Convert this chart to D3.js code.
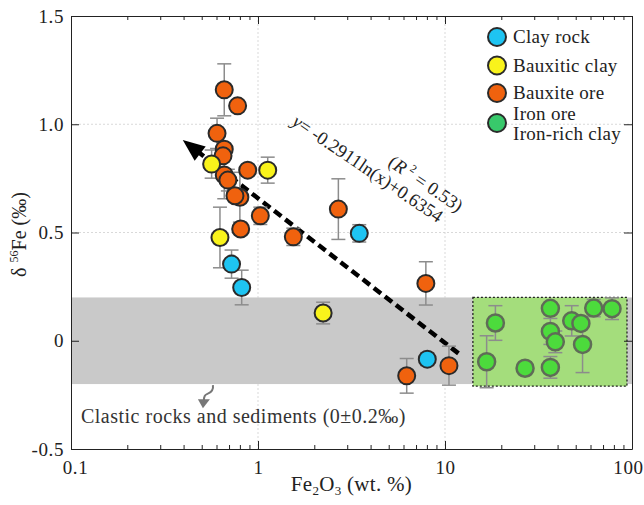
<!DOCTYPE html>
<html>
<head>
<meta charset="utf-8">
<script src="https://cdn.jsdelivr.net/npm/d3@7"></script>
<style>
  body { margin: 0; background: #fff; }
  svg { display: block; }
  svg text { font-family: "Liberation Serif", "Times New Roman", serif; }
</style>
</head>
<body>
<svg width="644" height="505"></svg>
<script>
// each point: [Fe2O3 wt.%, d56Fe permil, error]
const clayRock = [[0.722, 0.354, 0.065], [0.818, 0.246, 0.08], [3.48, 0.496, 0.04], [8.04, -0.085, 0.03]];
const bauxiticClay = [[0.565, 0.816, 0.065], [1.127, 0.788, 0.06], [0.626, 0.477, 0.14], [2.23, 0.128, 0.05]];
const bauxiteOre = [
  [0.66, 1.159, 0.12], [0.778, 1.085, 0], [0.604, 0.958, 0.07], [0.66, 0.885, 0],
  [0.65, 0.854, 0], [0.881, 0.788, 0], [0.66, 0.766, 0.11], [0.69, 0.742, 0.05],
  [0.8, 0.663, 0.115], [0.753, 0.67, 0], [0.808, 0.516, 0], [1.029, 0.577, 0.04],
  [1.545, 0.48, 0.04], [2.69, 0.608, 0.14], [7.9, 0.265, 0.1], [6.24, -0.162, 0.08],
  [10.5, -0.115, 0.09]
];
const ironOre = [
  [18.6, 0.082, 0.08], [16.7, -0.097, 0.12], [26.8, -0.127, 0], [36.6, 0.15, 0],
  [36.6, 0.043, 0.06], [38.9, -0.005, 0.05], [36.6, -0.123, 0.05], [47.6, 0.092, 0.07],
  [53.3, 0.08, 0], [54.4, -0.017, 0.13], [62.4, 0.151, 0.04], [78.2, 0.148, 0.05]
];
const trendEnds = [[0.396, 0.927], [12.37, -0.072]];
const yTickVals = [-0.5, 0, 0.5, 1, 1.5];
const yTickLabels = ["-0.5", "0", "0.5", "1.0", "1.5"];
const xMajorVals = [0.1, 1, 10, 100];
const bandRange = [-0.2, 0.2];
const ironBoxX = [14.1, 94];
const ironBoxY = [-0.21, 0.2];
const legendLabels = [["Clay rock"], ["Bauxitic clay"], ["Bauxite ore"], ["Iron ore", "Iron-rich clay"]];

const series = [
  {data: bauxiteOre, fill: "#f0620e", stroke: "#2a2a2a"},
  {data: bauxiticClay, fill: "#f9f31b", stroke: "#2a2a2a"},
  {data: clayRock, fill: "#1ec4f2", stroke: "#2a2a2a"},
  {data: ironOre, fill: "#4cdb3c", stroke: "#5f6c57"}
];
const legendColors = ["#1ec4f2", "#f9f31b", "#f0620e", "#38c96b"];
const serif = "'Liberation Serif', 'Times New Roman', serif";

const svg = d3.select("svg").attr("font-family", serif);
const x = d3.scaleLog().domain([0.1, 100]).range([71, 632]);
const y = d3.scaleLinear().domain([-0.5, 1.5]).range([449, 16]);

// grid
const grid = svg.append("g").attr("stroke", "#cfcfcf").attr("stroke-width", 0.8).attr("stroke-dasharray", "2,2");
grid.selectAll("line.v").data([1, 10]).enter().append("line")
  .attr("x1", d => x(d)).attr("x2", d => x(d)).attr("y1", y(1.5)).attr("y2", y(-0.5));
grid.selectAll("line.h").data([0.5, 1]).enter().append("line")
  .attr("x1", x(0.1)).attr("x2", x(100)).attr("y1", d => y(d)).attr("y2", d => y(d));

// clastic band
svg.append("rect")
  .attr("x", x(0.1)).attr("width", x(100) - x(0.1))
  .attr("y", y(bandRange[1])).attr("height", y(bandRange[0]) - y(bandRange[1]))
  .attr("fill", "#c9c9c9");

// iron ore box
svg.append("rect")
  .attr("x", x(ironBoxX[0])).attr("width", x(ironBoxX[1]) - x(ironBoxX[0]))
  .attr("y", y(ironBoxY[1])).attr("height", y(ironBoxY[0]) - y(ironBoxY[1]))
  .attr("fill", "#a4dd7c").attr("stroke", "#222").attr("stroke-width", 1.3)
  .attr("stroke-dasharray", "2,2");

// axes
const isMajor = d => Math.abs(Math.log10(d) - Math.round(Math.log10(d))) < 1e-6;
const styleAxis = g => {
  g.attr("font-family", serif).attr("font-size", 19);
  g.select(".domain").attr("stroke", "#222");
  g.selectAll(".tick line").attr("stroke", "#222");
  g.selectAll(".tick text").attr("fill", "#222").attr("letter-spacing", 0.6);
};

const gx = svg.append("g").attr("transform", `translate(0,${y(-0.5)})`)
  .call(d3.axisBottom(x).tickValues(x.ticks()).tickSize(-8).tickSizeOuter(0).tickPadding(12)
    .tickFormat(d => isMajor(d) ? d3.format("~g")(d) : ""));
gx.selectAll(".tick line").attr("y2", d => isMajor(d) ? -8 : -4);
gx.call(styleAxis);
gx.selectAll(".tick text").attr("dx", d => d === xMajorVals[0] ? 4 : d === xMajorVals[3] ? -4 : 0);

const gxt = svg.append("g").attr("transform", `translate(0,${y(1.5)})`)
  .call(d3.axisTop(x).tickValues(x.ticks()).tickSize(-8).tickSizeOuter(0).tickFormat(""));
gxt.selectAll(".tick line").attr("y2", d => isMajor(d) ? 8 : 4);
gxt.call(styleAxis);

const gy = svg.append("g").attr("transform", `translate(${x(0.1)},0)`)
  .call(d3.axisLeft(y).tickValues(yTickVals).tickSize(-8).tickSizeOuter(0).tickPadding(7)
    .tickFormat((d, i) => yTickLabels[i]));
gy.call(styleAxis);

const gyr = svg.append("g").attr("transform", `translate(${x(100)},0)`)
  .call(d3.axisRight(y).tickValues(yTickVals).tickSize(-8).tickSizeOuter(0).tickFormat(""));
gyr.call(styleAxis);

// trend line with arrow
const p0 = [x(trendEnds[0][0]), y(trendEnds[0][1])];
const p1 = [x(trendEnds[1][0]), y(trendEnds[1][1])];
const ang = Math.atan2(p1[1] - p0[1], p1[0] - p0[0]);
const headLen = 22, headW = 9;
svg.append("line")
  .attr("x1", p0[0] + Math.cos(ang) * headLen * 0.8).attr("y1", p0[1] + Math.sin(ang) * headLen * 0.8)
  .attr("x2", p1[0]).attr("y2", p1[1])
  .attr("stroke", "#000").attr("stroke-width", 4.5).attr("stroke-dasharray", "9,5");
const bx = p0[0] + Math.cos(ang) * headLen, by = p0[1] + Math.sin(ang) * headLen;
svg.append("path")
  .attr("d", `M${p0[0]},${p0[1]}L${bx - Math.sin(ang) * headW},${by + Math.cos(ang) * headW}L${bx + Math.sin(ang) * headW},${by - Math.cos(ang) * headW}Z`)
  .attr("fill", "#000");

// error bars and points
const capW = 7;
series.forEach(s => {
  const withErr = s.data.filter(d => d[2] > 0);
  const eg = svg.append("g").attr("stroke", "#8c8c8c").attr("stroke-width", 1.5).attr("fill", "none");
  withErr.forEach(d => {
    const cx = x(d[0]), top = y(d[1] + d[2]), bot = y(d[1] - d[2]);
    eg.append("line").attr("x1", cx).attr("x2", cx).attr("y1", top).attr("y2", bot);
    eg.append("line").attr("x1", cx - capW).attr("x2", cx + capW).attr("y1", top).attr("y2", top);
    eg.append("line").attr("x1", cx - capW).attr("x2", cx + capW).attr("y1", bot).attr("y2", bot);
  });
});
series.forEach(s => {
  svg.append("g").selectAll("circle")
    .data(s.data).enter().append("circle")
    .attr("cx", d => x(d[0])).attr("cy", d => y(d[1])).attr("r", 8.5)
    .attr("fill", s.fill).attr("stroke", s.stroke)
    .attr("stroke-width", s.data === ironOre ? 2.5 : 2);
});

// equation
const eqX = x(1.5), eqY = y(1.0);
svg.append("text")
  .attr("transform", `translate(${eqX},${eqY}) rotate(34)`)
  .attr("font-size", 18.5).attr("fill", "#222")
  .call(t => {
    t.append("tspan").attr("font-style", "italic").text("y");
    t.append("tspan").text("= -0.2911ln(x)+0.6354");
  });
const rX = x(4.9), rY = y(0.812);
svg.append("text")
  .attr("transform", `translate(${rX},${rY}) rotate(34)`)
  .attr("font-size", 18.5).attr("fill", "#222")
  .call(t => {
    t.append("tspan").text("(");
    t.append("tspan").attr("font-style", "italic").text("R");
    t.append("tspan").attr("font-size", 11).attr("dy", -8).attr("dx", 4).text("2");
    t.append("tspan").attr("dy", 8).text(" = 0.53)");
  });

// clastic label + curly arrow
const ax = x(0.574), ay = y(-0.205);
svg.append("path")
  .attr("d", `M${ax},${ay} C${ax + 1},${ay + 6} ${ax - 3},${ay + 8} ${ax - 6},${ay + 9} C${ax - 9},${ay + 10} ${ax - 9},${ay + 13} ${ax - 9},${ay + 15}`)
  .attr("fill", "none").attr("stroke", "#777").attr("stroke-width", 2);
svg.append("path")
  .attr("d", `M${ax - 15},${ay + 14}L${ax - 3},${ay + 14}L${ax - 10},${ay + 23}Z`)
  .attr("fill", "#777");
svg.append("text")
  .attr("x", x(0.113)).attr("y", y(-0.378))
  .attr("font-size", 20).attr("letter-spacing", 0.5).attr("fill", "#333")
  .text("Clastic rocks and sediments (0\u00b10.2\u2030)");

// legend
const lg = svg.append("g").attr("transform", "translate(497,37)");
const lgRows = [0, 28.5, 56, 86];
legendLabels.forEach((lab, i) => {
  lg.append("circle").attr("cx", 0).attr("cy", lgRows[i]).attr("r", 9)
    .attr("fill", legendColors[i]).attr("stroke", "#2a2a2a").attr("stroke-width", 2);
  const t = lg.append("text").attr("x", 16).attr("font-size", 19).attr("letter-spacing", 0.3).attr("fill", "#222");
  if (lab.length === 1) {
    t.attr("y", lgRows[i] + 6).text(lab[0]);
  } else {
    t.attr("y", lgRows[i] - 3).text(lab[0]);
    lg.append("text").attr("x", 16).attr("y", lgRows[i] + 17).attr("font-size", 19)
      .attr("letter-spacing", 0.3).attr("fill", "#222").text(lab[1]);
  }
});

// axis titles
svg.append("text")
  .attr("x", (x(0.1) + x(100)) / 2).attr("y", 491)
  .attr("text-anchor", "middle").attr("font-size", 21).attr("letter-spacing", 0.3).attr("fill", "#222")
  .call(t => {
    t.append("tspan").text("Fe");
    t.append("tspan").attr("font-size", 13).attr("dy", 4).text("2");
    t.append("tspan").attr("dy", -4).text("O");
    t.append("tspan").attr("font-size", 13).attr("dy", 4).text("3");
    t.append("tspan").attr("dy", -4).text(" (wt. %)");
  });
svg.append("text")
  .attr("transform", `translate(26,${(y(1.5) + y(-0.5)) / 2 + 2}) rotate(-90)`)
  .attr("text-anchor", "middle").attr("font-size", 20).attr("fill", "#222")
  .call(t => {
    t.append("tspan").text("\u03b4 ");
    t.append("tspan").attr("font-size", 12).attr("dy", -8).text("56");
    t.append("tspan").attr("dy", 8).text("Fe (\u2030)");
  });
</script>
</body>
</html>
